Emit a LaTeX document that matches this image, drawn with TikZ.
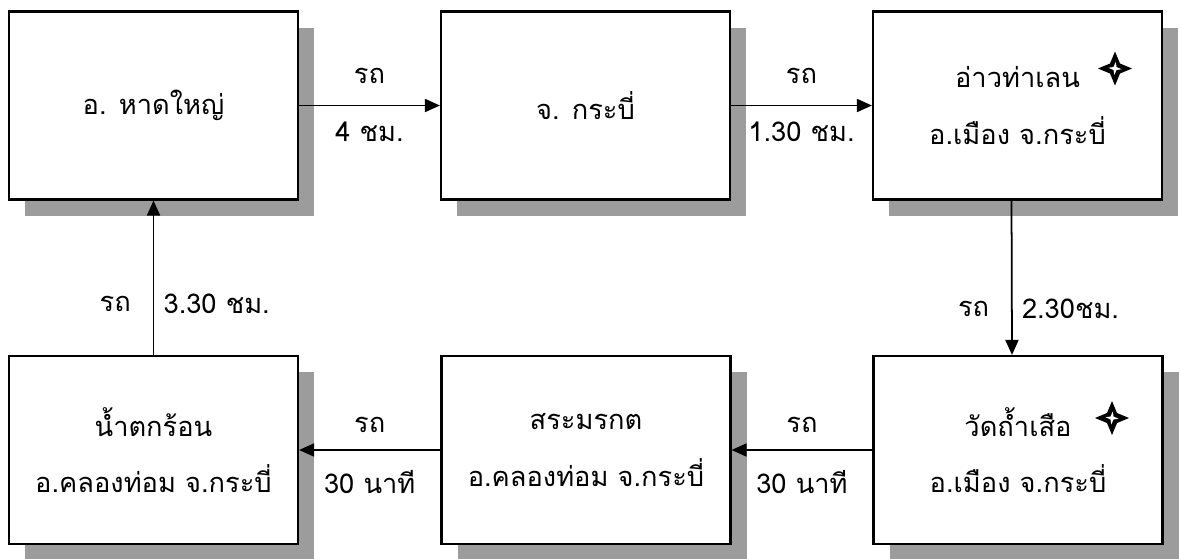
\documentclass[tikz,border=0pt]{standalone}
\usepackage{fontspec}
\newfontfamily\thaifont[Script=Thai]{Loma}
\usetikzlibrary{arrows.meta,shadows}
\definecolor{shadowgray}{HTML}{9C9C9C}

\tikzset{
  compass/.pic={
    \fill[black] (0,0.34) -- (0.1,0.1) -- (0.34,0) -- (0.1,-0.1) -- (0,-0.34) -- (-0.1,-0.1) -- (-0.34,0) -- (-0.1,0.1) -- cycle;
    \fill[white] (0.015,0.13) -- (0.03,0.03) -- (0.13,-0.015) -- (0.03,-0.03) -- (-0.015,-0.13) -- (-0.03,-0.03) -- (-0.13,0.015) -- (-0.03,0.03) -- cycle;
  }
}

\begin{document}
\begin{tikzpicture}[
  font=\thaifont\fontsize{15.5}{32}\selectfont,
  place/.style={rectangle,draw,line width=1.2pt,fill=white,minimum width=5.78cm,minimum height=3.76cm,
    align=center,inner sep=2pt,
    drop shadow={shadow xshift=0.32cm,shadow yshift=-0.32cm,fill=shadowgray,opacity=1}},
  lbl/.style={inner sep=1pt},
  link/.style={->,line width=1pt},
  >={Triangle[length=3mm,width=2.6mm]}]

\useasboundingbox (0,0) rectangle (23.62,11.16);

\node[place] (hatyai)   at (3.07,9.05)  {อ. หาดใหญ่};
\node[place] (krabi)    at (11.71,9.05) {จ. กระบี่};
\node[place] (thalane)  at (20.35,9.05) {อ่าวท่าเลน\\อ.เมือง จ.กระบี่};
\node[place] (tamsua)   at (20.36,2.16) {วัดถ้ำเสือ\\อ.เมือง จ.กระบี่};
\node[place] (morakot)  at (11.72,2.16) {สระมรกต\\อ.คลองท่อม จ.กระบี่};
\node[place] (namtok)   at (3.07,2.16)  {น้ำตกร้อน\\อ.คลองท่อม จ.กระบี่};

\path (thalane.center) ++(1.95,0.74) pic {compass};
\path (tamsua.center) ++(1.88,0.64) pic {compass};

\draw[link] (hatyai) -- (krabi)
  node[lbl,midway,yshift=0.6cm] (r1) {รถ}
  node[lbl,midway,yshift=-0.52cm] (t1) {4 ชม.};
\draw[link] (krabi) -- (thalane)
  node[lbl,midway,yshift=0.6cm] (r2) {รถ}
  node[lbl,midway,yshift=-0.52cm] (t2) {1.30 ชม.};
\draw[link] ([xshift=-0.12cm]thalane.south) -- ([xshift=-0.12cm]tamsua.north)
  node[lbl,pos=0.7,left=0.4cm] (r3) {รถ}
  node[lbl,pos=0.7,right=0.15cm] (t3) {2.30ชม.};
\draw[link] (tamsua) -- (morakot)
  node[lbl,midway,yshift=0.5cm] (r4) {รถ}
  node[lbl,midway,yshift=-0.64cm] (t4) {30 นาที};
\draw[link] (morakot) -- (namtok)
  node[lbl,midway,yshift=0.5cm] (r5) {รถ}
  node[lbl,midway,yshift=-0.64cm] (t5) {30 นาที};
\draw[link] (namtok) -- (hatyai)
  node[lbl,pos=0.33,left=0.4cm] (r6) {รถ}
  node[lbl,pos=0.33,right=0.15cm] (t6) {3.30 ชม.};
\end{tikzpicture}
\end{document}
